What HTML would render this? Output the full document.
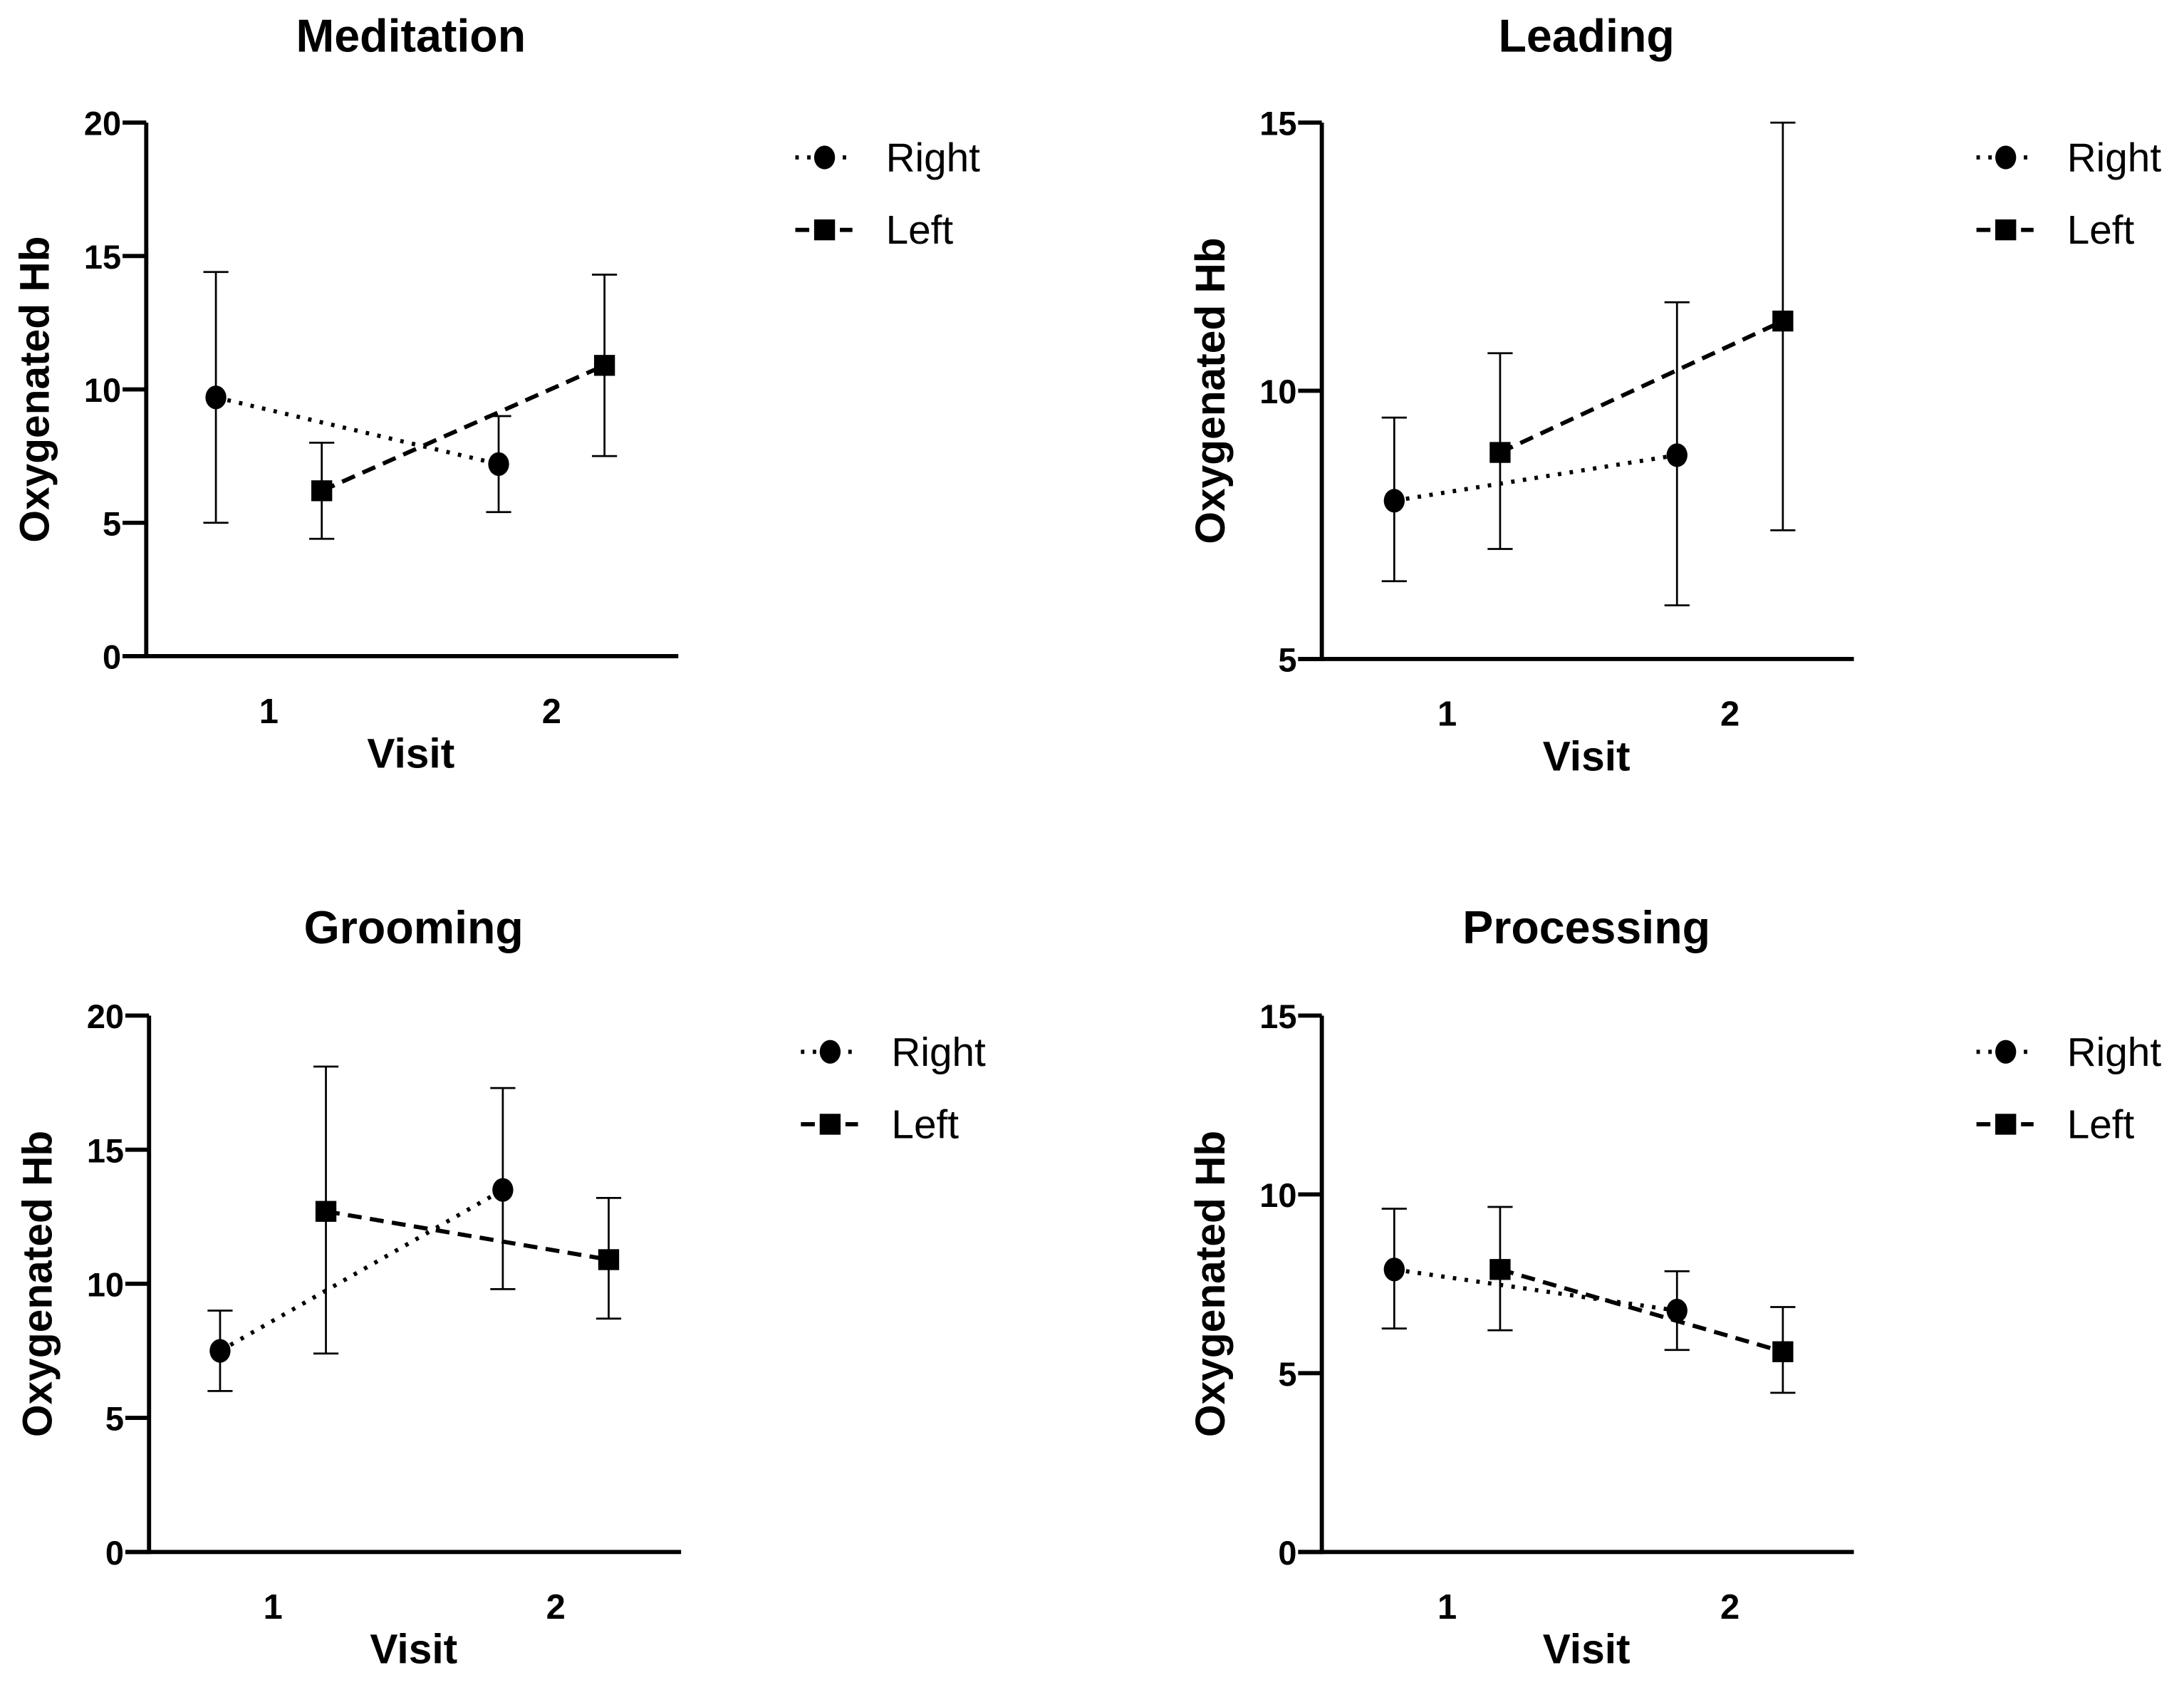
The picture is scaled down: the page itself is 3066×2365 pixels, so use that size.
<!DOCTYPE html>
<html><head><meta charset="utf-8">
<style>
html,body{margin:0;padding:0;background:#fff;}
svg{display:block;}
text{font-family:"Liberation Sans",Arial,sans-serif;fill:#000;}
</style></head>
<body>
<svg id="fig" width="3066" height="2365" viewBox="0 0 1568 1209.5" xmlns="http://www.w3.org/2000/svg"></svg>
<script>
// ---- data ----
const categories = ["1", "2"];
const titles = ["Meditation", "Leading", "Grooming", "Processing"];
const yTicksA = [0, 5, 10, 15, 20];
const yTicksB = [5, 10, 15];
const yTicksC = [0, 5, 10, 15];
const medRight = [9.7, 7.2];  const medRightLo = [5.0, 5.4];  const medRightHi = [14.4, 9.0];
const medLeft  = [6.2, 10.9]; const medLeftLo  = [4.4, 7.5];  const medLeftHi  = [8.0, 14.3];
const leaRight = [7.95, 8.8]; const leaRightLo = [6.45, 6.0]; const leaRightHi = [9.5, 11.65];
const leaLeft  = [8.85, 11.3];const leaLeftLo  = [7.05, 7.4]; const leaLeftHi  = [10.7, 15.0];
const groRight = [7.5, 13.5]; const groRightLo = [6.0, 9.8];  const groRightHi = [9.0, 17.3];
const groLeft  = [12.7, 10.9];const groLeftLo  = [7.4, 8.7];  const groLeftHi  = [18.1, 13.2];
const proRight = [7.9, 6.75]; const proRightLo = [6.25, 5.65];const proRightHi = [9.6, 7.85];
const proLeft  = [7.9, 5.6];  const proLeftLo  = [6.2, 4.45]; const proLeftHi  = [9.65, 6.85];

const NS = "http://www.w3.org/2000/svg";
const svg = document.getElementById('fig');
function mk(tag, attrs, parent, txt) {
  const e = document.createElementNS(NS, tag);
  for (const k in attrs) e.setAttribute(k, attrs[k]);
  if (txt !== undefined) e.textContent = txt;
  (parent || svg).appendChild(e);
  return e;
}

const panels = [
  {title: titles[0], ax: 105, top: 88, bot: 471, ticks: yTicksA, c: [193, 396], tY: 25, lx: 592, ly: 113,
   R: [medRight, medRightLo, medRightHi], L: [medLeft, medLeftLo, medLeftHi]},
  {title: titles[1], ax: 949, top: 88, bot: 473, ticks: yTicksB, c: [1039, 1242], tY: 25, lx: 1440, ly: 113,
   R: [leaRight, leaRightLo, leaRightHi], L: [leaLeft, leaLeftLo, leaLeftHi]},
  {title: titles[2], ax: 107, top: 729, bot: 1114, ticks: yTicksA, c: [196, 399], tY: 665, lx: 596, ly: 755,
   R: [groRight, groRightLo, groRightHi], L: [groLeft, groLeftLo, groLeftHi]},
  {title: titles[3], ax: 949, top: 729, bot: 1114, ticks: yTicksC, c: [1039, 1242], tY: 665, lx: 1440, ly: 755,
   R: [proRight, proRightLo, proRightHi], L: [proLeft, proLeftLo, proLeftHi]}
];

panels.forEach((p, pi) => {
  const g = mk('g', {});
  
  
  const ymin = p.ticks[0], ymax = p.ticks[p.ticks.length - 1];
  const y = v => p.bot - (v - ymin) / (ymax - ymin) * (p.bot - p.top);
  const right = p.ax + 382;
  const mid = (p.ax + right) / 2 - 1;
  const xOff = 38;
  const xr = i => p.c[i] - xOff, xl = i => p.c[i] + xOff;

  const t = mk('text', {x: mid, y: p.tY + 12, 'font-size': 33, 'font-weight': 'bold', 'text-anchor': 'middle'}, g, p.title);
  
  

  const ya = mk('line', {x1: p.ax, y1: p.top, x2: p.ax, y2: p.bot + 1.5, stroke: '#000', 'stroke-width': 3}, g);
  
  
  const xa = mk('line', {x1: p.ax - 17, y1: p.bot, x2: right, y2: p.bot, stroke: '#000', 'stroke-width': 3}, g);
  
  
  p.ticks.forEach(v => {
    const tk = mk('line', {x1: p.ax - 17, y1: y(v), x2: p.ax, y2: y(v), stroke: '#000', 'stroke-width': 3}, g);
    
    
    const tl = mk('text', {x: p.ax - 18, y: y(v) + 9, 'font-size': 24, 'font-weight': 'bold', 'text-anchor': 'end'}, g, String(v));
    
    
  });
  categories.forEach((c, i) => {
    const tl = mk('text', {x: p.c[i], y: p.bot + 48, 'font-size': 25, 'font-weight': 'bold', 'text-anchor': 'middle'}, g, c);
    
    
  });
  const xt = mk('text', {x: mid, y: p.bot + 80, 'font-size': 30, 'font-weight': 'bold', 'text-anchor': 'middle'}, g, 'Visit');
  
  
  const cy = (p.top + p.bot) / 2 + 0;
  const yt = mk('text', {x: 0, y: 0, 'font-size': 30, 'font-weight': 'bold', 'text-anchor': 'middle',
    transform: `translate(${p.ax - 70},${cy}) rotate(-90)`}, g, 'Oxygenated Hb');
  
  

  [['right', p.R, xr, '2.5,6', 3], ['left', p.L, xl, '10,6', 3]].forEach(([nm, s, xf, dash, sw]) => {
    const [vals, lo, hi] = s;
    const ln = mk('line', {x1: xf(0), y1: y(vals[0]), x2: xf(1), y2: y(vals[1]), stroke: '#000', 'stroke-width': sw, 'stroke-dasharray': dash}, g);
    
    
    vals.forEach((v, i) => {
      const x = xf(i);
      const eb = mk('path', {d: `M${x},${y(lo[i])}V${y(hi[i])}M${x - 9},${y(lo[i])}H${x + 9}M${x - 9},${y(hi[i])}H${x + 9}`, stroke: '#000', 'stroke-width': 1.4, fill: 'none'}, g);
      
      
      let m;
      if (nm === 'right') m = mk('ellipse', {cx: x, cy: y(v), rx: 7.5, ry: 8.5, fill: '#000'}, g);
      else m = mk('rect', {x: x - 7.5, y: y(v) - 7.5, width: 15, height: 15, fill: '#000'}, g);
      
      
    });
  });

  const lg = mk('g', {}, g);
  
  
  [['Right', p.ly, '2.5,6', 'c'], ['Left', p.ly + 52, '10,6', 's']].forEach(([lab, ly, dash, shp]) => {
    const e = mk('g', {}, lg);
    
    
    mk('line', {x1: p.lx - 21, y1: ly, x2: p.lx + 20, y2: ly, stroke: '#000', 'stroke-width': 3, 'stroke-dasharray': dash}, e);
    if (shp === 'c') mk('ellipse', {cx: p.lx, cy: ly, rx: 7.5, ry: 8.5, fill: '#000'}, e);
    else mk('rect', {x: p.lx - 7.5, y: ly - 7.5, width: 15, height: 15, fill: '#000'}, e);
    mk('text', {x: p.lx + 44, y: ly + 10, 'font-size': 29}, e, lab);
  });
});
</script>
</body></html>
